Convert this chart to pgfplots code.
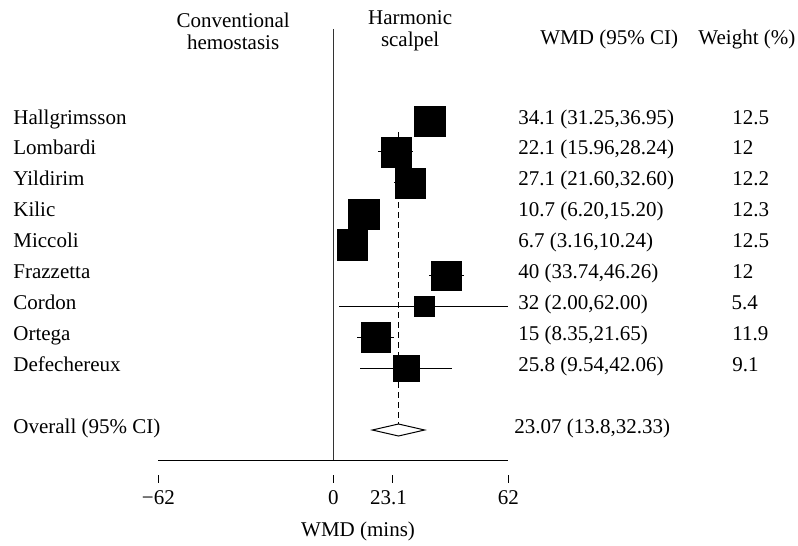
\documentclass[border=0pt]{standalone}
\usepackage{fontspec}
\setmainfont{Liberation Serif}
\usepackage{pgfplots}
\usepackage{pgfplotstable}
\pgfplotsset{compat=1.18}

% study, estimate, CI, weight (%)
\pgfplotstableread{
row est lo hi w
1 34.1 31.25 36.95 12.5
2 22.1 15.96 28.24 12
3 27.1 21.60 32.60 12.2
4 10.7 6.20 15.20 12.3
5 6.7 3.16 10.24 12.5
6 40 33.74 46.26 12
7 32 2.00 62.00 5.4
8 15 8.35 21.65 11.9
9 25.8 9.54 42.06 9.1
}\studies

\begin{document}
\begin{tikzpicture}[every node/.style={font=\fontsize{10.5}{11}\selectfont, inner sep=0pt}]
\begin{axis}[
    scale only axis,
    width=399pt, height=273pt,
    xmin=-118.1, xmax=164.6,
    ymin=-2.916, ymax=14.754,
    y dir=reverse,
    hide axis,
    clip=false,
]
\coordinate (bbA) at (rel axis cs:0,0);
\coordinate (bbB) at (rel axis cs:1,1);
% zero line and x axis
\addplot[black!80, line width=0.75pt] coordinates {(0,-1.98) (0,12)};
\addplot[black, line width=0.5pt] coordinates {(-62,12) (62,12)};
% detached tick marks
\addplot[black, line width=0.6pt] coordinates {(-62,12.46) (-62,12.72)};
\addplot[black, line width=0.6pt] coordinates {(0,12.46) (0,12.72)};
\addplot[black, line width=0.6pt] coordinates {(21,12.46) (21,12.72)};
\addplot[black, line width=0.6pt] coordinates {(62,12.46) (62,12.72)};

% pooled estimate line
\addplot[black, line width=0.5pt, dash pattern=on 3pt off 2pt] coordinates {(23.07,1.36) (23.07,11.19)};

% confidence intervals
\addplot[draw=none, mark=none,
    error bars/.cd, x dir=both, x explicit, error mark=none,
    error bar style={draw=black, solid, line width=0.5pt}]
    table[x=est, y=row,
          x error plus expr=\thisrow{hi}-\thisrow{est},
          x error minus expr=\thisrow{est}-\thisrow{lo}] {\studies};

% weighted squares (area proportional to weight)
\addplot[scatter, only marks, mark=square*,
    scatter/use mapped color={draw=black, fill=black},
    visualization depends on={7.6*sqrt(\thisrow{w}/12.5) \as \msize},
    scatter/@pre marker code/.append style={/tikz/mark size=\msize},
    mark options={line width=0.1pt}]
    table[x=est, y=row, meta=w] {\studies};

% overall diamond
\addplot[black, fill=white, line width=0.5pt] coordinates {(13.8,11) (23.07,10.806) (32.33,11) (23.07,11.194)} --cycle;

% headers
\node[align=center] at (axis cs:-35.5,-1.91) {Conventional\\hemostasis};
\node[align=center] at (axis cs:27.2,-1.91) {Harmonic\\scalpel};
\node[anchor=base west] at (axis cs:73.2,-1.47) {WMD (95\% CI)};
\node[anchor=base west] at (axis cs:129.2,-1.47) {Weight (\%)};

% study names
\node[anchor=base west] at (axis cs:-113.5,1.1) {Hallgrimsson};
\node[anchor=base west] at (axis cs:-113.5,2.1) {Lombardi};
\node[anchor=base west] at (axis cs:-113.5,3.1) {Yildirim};
\node[anchor=base west] at (axis cs:-113.5,4.1) {Kilic};
\node[anchor=base west] at (axis cs:-113.5,5.1) {Miccoli};
\node[anchor=base west] at (axis cs:-113.5,6.1) {Frazzetta};
\node[anchor=base west] at (axis cs:-113.5,7.1) {Cordon};
\node[anchor=base west] at (axis cs:-113.5,8.1) {Ortega};
\node[anchor=base west] at (axis cs:-113.5,9.1) {Defechereux};
\node[anchor=base west] at (axis cs:-113.5,11.1) {Overall (95\% CI)};

% WMD column
\node[anchor=base west] at (axis cs:65.4,1.1) {34.1 (31.25,36.95)};
\node[anchor=base west] at (axis cs:65.4,2.1) {22.1 (15.96,28.24)};
\node[anchor=base west] at (axis cs:65.4,3.1) {27.1 (21.60,32.60)};
\node[anchor=base west] at (axis cs:65.4,4.1) {10.7 (6.20,15.20)};
\node[anchor=base west] at (axis cs:65.4,5.1) {6.7 (3.16,10.24)};
\node[anchor=base west] at (axis cs:65.4,6.1) {40 (33.74,46.26)};
\node[anchor=base west] at (axis cs:65.4,7.1) {32 (2.00,62.00)};
\node[anchor=base west] at (axis cs:65.4,8.1) {15 (8.35,21.65)};
\node[anchor=base west] at (axis cs:65.4,9.1) {25.8 (9.54,42.06)};
\node[anchor=base west] at (axis cs:64.0,11.1) {23.07 (13.8,32.33)};

% weight column
\node[anchor=base west] at (axis cs:141.2,1.1) {12.5};
\node[anchor=base west] at (axis cs:141.2,2.1) {12};
\node[anchor=base west] at (axis cs:141.2,3.1) {12.2};
\node[anchor=base west] at (axis cs:141.2,4.1) {12.3};
\node[anchor=base west] at (axis cs:141.2,5.1) {12.5};
\node[anchor=base west] at (axis cs:141.2,6.1) {12};
\node[anchor=base west] at (axis cs:140.9,7.1) {5.4};
\node[anchor=base west] at (axis cs:141.2,8.1) {11.9};
\node[anchor=base west] at (axis cs:141.2,9.1) {9.1};

% tick labels and axis label
\node[anchor=base] at (axis cs:-62,13.42) {−62};
\node[anchor=base] at (axis cs:0,13.42) {0};
\node[anchor=base] at (axis cs:19.5,13.42) {23.1};
\node[anchor=base] at (axis cs:62,13.42) {62};
\node[anchor=base] at (axis cs:8.75,14.45) {WMD (mins)};
\end{axis}
\pgfresetboundingbox
\path (bbA) rectangle (bbB);
\end{tikzpicture}
\end{document}
